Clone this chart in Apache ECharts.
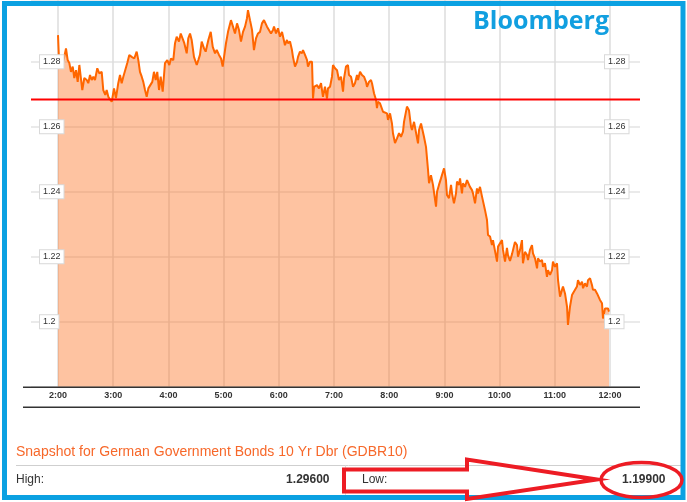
<!DOCTYPE html>
<html><head><meta charset="utf-8">
<script src="https://cdn.jsdelivr.net/npm/echarts@6/dist/echarts.min.js"></script>
<style>html,body{margin:0;padding:0;background:#fff}#c{width:687px;height:502px}</style>
</head><body><div id="c"></div>
<script>
// minutes after 2:00
const timeMin = [
0,1.4,4.0,6.5,8.7,10.5,12.3,14.1,16.0,17.7,
19.6,21.4,23.2,24.7,26.4,28.6,31.2,32.9,34.8,36.6,
38.4,40.2,42.7,44.9,47.5,49.2,51.4,52.9,54.7,56.5,
58.4,60.9,63.0,65.5,67.4,69.2,71.0,72.8,75.3,77.5,
80.1,82.9,85.5,87.3,89.1,91.0,92.7,94.6,96.4,98.2,
100.0,102.5,104.3,106.2,107.9,109.8,111.6,113.8,116.3,118.8,
121.0,122.8,125.3,127.2,129.0,131.5,133.4,135.5,137.3,139.9,
141.6,143.5,145.3,147.8,150.8,152.5,154.3,156.2,158.7,160.5,
163.4,166.0,168.2,170.7,172.5,175.0,177.2,179.0,
182.6,184.8,188.0,190.2,192.4,194.6,196.7,198.9,201.1,203.3,
205.4,206.5,208.7,210.9,213.0,215.2,217.4,219.6,221.7,223.9,
227.2,229.3,231.5,233.7,234.8,237.0,239.1,241.3,243.5,244.6,
246.7,248.9,250.0,252.2,254.3,255.4,257.6,259.8,260.9,263.0,
265.2,266.3,268.5,270.7,271.7,273.9,276.1,277.2,278.3,281.5,
283.7,285.9,288.0,290.2,292.4,293.5,295.7,297.8,298.9,301.1,
303.3,305.4,307.6,309.8,310.9,313.0,315.2,316.3,318.5,320.7,
322.8,325.0,326.1,328.3,330.4,332.6,334.8,335.9,338.0,340.2,
341.3,343.5,345.7,346.7,347.8,350.0,
353.3,357.6,358.7,360.9,363.0,364.1,366.3,368.5,370.7,372.8,
375.0,376.1,379.3,381.5,383.7,384.8,387.0,389.1,391.3,392.4,
394.6,396.7,397.8,400.0,402.2,403.3,405.4,407.6,408.7,410.9,
412.0,414.1,416.3,417.4,419.6,421.7,422.8,425.0,427.2,428.3,
430.4,432.6,433.7,435.9,437.0,439.1,440.2,442.4,444.6,445.7,
447.8,450.0,451.1,453.3,455.4,456.5,458.7,460.9,462.0,464.1,
466.3,467.4,469.6,471.7,472.8,475.0,477.2,478.3,480.4,482.6,
483.7,485.9,488.0,489.1,491.3,493.5,494.6,496.7,498.9,500.0,
502.2,504.3,505.4,507.6,509.8,510.9,513.0,515.2,516.3,518.5,
520.7,521.7,523.9,526.1,527.2,529.3,531.5,532.6,534.8,537.0,
538.0,540.2,542.4,543.5,545.7,547.8,548.9,551.1,553.3,554.3,
556.5,558.7,559.8,562.0,564.1,565.2,567.4,569.6,570.7,572.8,
575.0,576.1,578.3,580.4,581.5,583.7,585.9,587.0,589.1,591.3,
592.4,594.6,596.7,597.8,598.9
];
const yieldVal = [
1.2882,1.2785,1.2785,1.2811,1.2841,1.2805,1.2796,1.2769,1.2785,1.2750,
1.2774,1.2738,1.2790,1.2796,1.2713,1.2750,1.2744,1.2734,1.2759,1.2744,
1.2754,1.2744,1.2780,1.2764,1.2769,1.2713,1.2698,1.2713,1.2692,1.2698,
1.2677,1.2718,1.2688,1.2734,1.2759,1.2734,1.2754,1.2750,1.2796,1.2821,
1.2815,1.2810,1.2831,1.2805,1.2769,1.2754,1.2738,1.2713,1.2692,1.2718,
1.2723,1.2738,1.2769,1.2744,1.2769,1.2713,1.2754,1.2708,1.2796,1.2805,
1.2790,1.2810,1.2805,1.2857,1.2877,1.2862,1.2887,1.2882,1.2857,1.2826,
1.2872,1.2887,1.2867,1.2815,1.2790,1.2805,1.2821,1.2862,1.2841,1.2831,
1.2867,1.2892,1.2846,1.2826,1.2836,1.2821,1.2810,1.2785,
1.2857,1.2892,1.2928,1.2908,1.2887,1.2918,1.2898,1.2862,1.2892,1.2908,
1.2934,1.2959,1.2928,1.2898,1.2836,1.2872,1.2887,1.2892,1.2918,1.2928,
1.2908,1.2903,1.2887,1.2898,1.2908,1.2887,1.2903,1.2877,1.2892,1.2892,
1.2851,1.2867,1.2857,1.2862,1.2836,1.2815,1.2785,1.2800,1.2815,1.2831,
1.2826,1.2836,1.2821,1.2805,1.2785,1.2800,1.2800,1.2687,1.2723,1.2728,
1.2718,1.2734,1.2692,1.2723,1.2687,1.2718,1.2723,1.2754,1.2790,1.2780,
1.2774,1.2744,1.2754,1.2708,1.2749,1.2785,1.2790,1.2759,1.2754,1.2723,
1.2734,1.2759,1.2744,1.2769,1.2759,1.2754,1.2738,1.2723,1.2738,1.2744,
1.2734,1.2703,1.2682,1.2657,1.2677,1.2672,
1.2646,1.2641,1.2621,1.2641,1.2610,1.2580,1.2550,1.2564,1.2580,1.2569,
1.2585,1.2615,1.2662,1.2651,1.2600,1.2590,1.2615,1.2621,1.2549,1.2590,
1.2610,1.2610,1.2569,1.2538,1.2467,1.2426,1.2451,1.2421,1.2415,1.2354,
1.2400,1.2421,1.2441,1.2441,1.2472,1.2436,1.2390,1.2380,1.2421,1.2395,
1.2364,1.2395,1.2431,1.2421,1.2441,1.2395,1.2426,1.2415,1.2436,1.2431,
1.2415,1.2405,1.2395,1.2364,1.2410,1.2395,1.2415,1.2385,1.2390,1.2344,
1.2313,1.2267,1.2262,1.2236,1.2251,1.2218,1.2185,1.2231,1.2230,1.2251,
1.2221,1.2185,1.2227,1.2205,1.2187,1.2208,1.2202,1.2245,1.2236,1.2200,
1.2221,1.2251,1.2180,1.2215,1.2205,1.2190,1.2221,1.2236,1.2210,1.2195,
1.2164,1.2195,1.2185,1.2190,1.2169,1.2180,1.2138,1.2159,1.2144,1.2159,
1.2185,1.2169,1.2180,1.2128,1.2077,1.2098,1.2108,1.2087,1.2046,1.1990,
1.2046,1.2082,1.2087,1.2098,1.2108,1.2128,1.2113,1.2123,1.2103,1.2118,
1.2108,1.2128,1.2134,1.2113,1.2098,1.2098,1.2087,1.2082,1.2067,1.2057,
1.2010,1.2041,1.2036,1.2041,1.2031
];
const hourLabels = ['2:00','3:00','4:00','5:00','6:00','7:00','8:00','9:00','10:00','11:00','12:00'];
const yTicks = [1.2, 1.22, 1.24, 1.26, 1.28];
const yMin = 1.18, yMax = 1.299, yStep = 0.02;
const referenceLevel = 1.2684;
const brand = 'Bloomberg';
const snapshotTitle = 'Snapshot for German Government Bonds 10 Yr Dbr (GDBR10)';
const highLabel = 'High:', highValue = '1.29600';
const lowLabel = 'Low:', lowValue = '1.19900';

const n = Math.min(timeMin.length, yieldVal.length);
const pts = [];
for (let i = 0; i < n; i++) pts.push([timeMin[i], yieldVal[i]]);

const FONT = '"Liberation Sans", Arial, sans-serif';
const yFmt = v => { const t = yTicks.find(t => Math.abs(t - v) < 1e-6); return t === undefined ? '' : String(t); };
const boxLabel = {
  formatter: yFmt, fontSize: 9, color: '#333', fontFamily: FONT, showMinLabel: false, showMaxLabel: false,
  backgroundColor: '#fff', borderColor: '#d9d9d9', borderWidth: 1, padding: [2, 3, 2, 3], align: 'left'
};
const TOP = 0, BOTTOM = 115.3;

const chart = echarts.init(document.getElementById('c'));
chart.setOption({
  animation: false,
  textStyle: { fontFamily: FONT },
  grid: [
    { left: 31, right: 47, top: TOP, bottom: BOTTOM },
    { left: 58, right: 77, top: TOP, bottom: BOTTOM }
  ],
  xAxis: [
    { gridIndex: 0, type: 'value', min: 0, max: 1, show: false },
    { gridIndex: 1, type: 'value', min: 0, max: 600, interval: 60,
      axisLine: { show: false }, axisTick: { show: false },
      splitLine: { show: true, lineStyle: { color: '#dcdcdc', width: 1.5 } },
      axisLabel: { formatter: v => hourLabels[Math.round(v / 60)], fontSize: 9, fontWeight: 'bold', color: '#333', margin: 4 } }
  ],
  yAxis: [
    { gridIndex: 0, type: 'value', min: yMin, max: yMax, interval: yStep,
      axisLine: { show: false }, axisTick: { show: false }, axisLabel: { show: false },
      splitLine: { show: true, lineStyle: { color: '#e3e3e3', width: 1.5 } } },
    { gridIndex: 1, type: 'value', position: 'left', min: yMin, max: yMax, interval: yStep, z: 10,
      axisLine: { show: false }, axisTick: { show: false }, splitLine: { show: false },
      axisLabel: Object.assign({}, boxLabel, { margin: 18 }) },
    { gridIndex: 1, type: 'value', position: 'right', min: yMin, max: yMax, interval: yStep, z: 10,
      axisLine: { show: false }, axisTick: { show: false }, splitLine: { show: false },
      axisLabel: Object.assign({}, boxLabel, { margin: -5 }) }
  ],
  series: [
    { type: 'line', xAxisIndex: 1, yAxisIndex: 1, data: pts, showSymbol: false, symbol: 'none',
      lineStyle: { color: '#ff6600', width: 2 },
      areaStyle: { color: 'rgba(252,105,20,0.4)', opacity: 1, origin: 'start' }, z: 2 },
    { type: 'line', xAxisIndex: 0, yAxisIndex: 0, data: [[0, referenceLevel], [1, referenceLevel]],
      symbol: 'none', lineStyle: { color: '#ff0000', width: 2 }, z: 5, silent: true }
  ],
  graphic: [
    { type: 'line', z: 50, shape: { x1: 23, y1: 387.3, x2: 640, y2: 387.3 }, style: { stroke: '#333', lineWidth: 1.5 } },
    { type: 'line', z: 50, shape: { x1: 23, y1: 407.3, x2: 640, y2: 407.3 }, style: { stroke: '#333', lineWidth: 1.5 } },
    { type: 'text', z: 50, x: 473, y: 21.5, style: { text: brand, font: 'bold 25px "Open Sans", sans-serif', fill: '#119fe0', verticalAlign: 'middle', align: 'left' } },
    { type: 'text', z: 50, x: 16, y: 452.5, style: { text: snapshotTitle, font: '14px ' + FONT, fill: '#f7682a', verticalAlign: 'middle', align: 'left' } },
    { type: 'line', z: 50, shape: { x1: 16, y1: 465.5, x2: 681, y2: 465.5 }, style: { stroke: '#cfcfcf', lineWidth: 1 } },
    { type: 'line', z: 50, shape: { x1: 345.5, y1: 465.5, x2: 345.5, y2: 497 }, style: { stroke: '#dddddd', lineWidth: 1 } },
    { type: 'text', z: 50, x: 16, y: 480, style: { text: highLabel, font: '12px ' + FONT, fill: '#333', verticalAlign: 'middle', align: 'left' } },
    { type: 'text', z: 50, x: 329.5, y: 480, style: { text: highValue, font: 'bold 12px ' + FONT, fill: '#333', verticalAlign: 'middle', align: 'right' } },
    { type: 'text', z: 50, x: 362, y: 480, style: { text: lowLabel, font: '12px ' + FONT, fill: '#333', verticalAlign: 'middle', align: 'left' } },
    { type: 'text', z: 50, x: 665.5, y: 480, style: { text: lowValue, font: 'bold 12px ' + FONT, fill: '#333', verticalAlign: 'middle', align: 'right' } },
    { type: 'rect', z: 60, shape: { x: 4.5, y: 3.5, width: 678.5, height: 494 }, style: { fill: 'none', stroke: '#0ba1e2', lineWidth: 5 } },
    { type: 'polygon', z: 70, shape: { points: [[344, 469.5], [467, 469.5], [467, 459.5], [597, 479.5], [467, 499], [467, 491.5], [344, 491.5]] },
      style: { fill: 'none', stroke: '#ed1c24', lineWidth: 4, lineJoin: 'miter' } },
    { type: 'ellipse', z: 70, shape: { cx: 641.5, cy: 480, rx: 40.5, ry: 17.5 }, style: { fill: 'none', stroke: '#ed1c24', lineWidth: 3.5 } }
  ]
});
</script></body></html>
